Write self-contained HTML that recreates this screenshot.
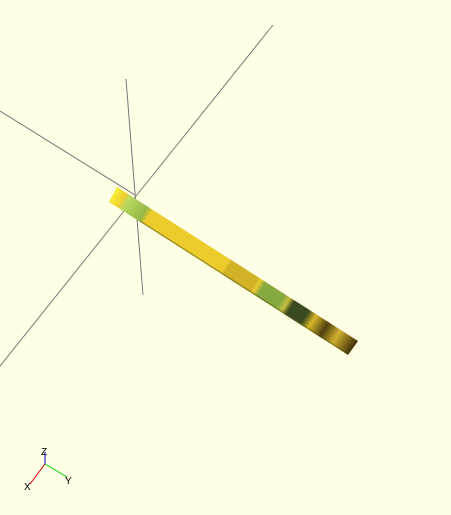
<!DOCTYPE html>
<html><head><meta charset="utf-8"><style>
html,body{margin:0;padding:0;background:#ffffe5;}
svg{display:block}
</style></head><body>
<svg width="451" height="515" viewBox="0 0 451 515">
<defs>
<linearGradient id="g" gradientUnits="userSpaceOnUse" x1="112" y1="194" x2="353" y2="348">
<stop offset="0" stop-color="#f8f030"/>
<stop offset="0.04" stop-color="#f0d030"/>
<stop offset="0.06" stop-color="#b8d860"/>
<stop offset="0.13" stop-color="#98b848"/>
<stop offset="0.15" stop-color="#eccb2c"/>
<stop offset="0.47" stop-color="#eccb2c"/>
<stop offset="0.48" stop-color="#d2b226"/>
<stop offset="0.59" stop-color="#d2b226"/>
<stop offset="0.60" stop-color="#eccb2c"/>
<stop offset="0.62" stop-color="#88a840"/>
<stop offset="0.70" stop-color="#88a840"/>
<stop offset="0.72" stop-color="#c8c040"/>
<stop offset="0.74" stop-color="#3a4a20"/>
<stop offset="0.80" stop-color="#3a4a20"/>
<stop offset="0.83" stop-color="#d8b828"/>
<stop offset="0.88" stop-color="#504010"/>
<stop offset="0.93" stop-color="#d0b030"/>
<stop offset="1" stop-color="#403008"/>
</linearGradient>
</defs>
<g stroke="#777" stroke-width="1">
<line x1="0" y1="111" x2="135" y2="195"/>
<line x1="273" y1="25" x2="0" y2="366"/>
<line x1="126" y1="79" x2="143" y2="295"/>
</g>
<polygon points="109,202 117,187 358,341 348,355" fill="url(#g)"/>
<line x1="140" y1="221" x2="345" y2="352" stroke="#5a6020" stroke-width="1.2" opacity="0.6"/>
<g font-family="Liberation Sans, sans-serif" font-size="10">
<line x1="45" y1="464" x2="30" y2="484" stroke="#d00" stroke-width="1"/>
<line x1="45" y1="464" x2="67" y2="477" stroke="#0c0" stroke-width="1"/>
<line x1="45" y1="464" x2="45" y2="452" stroke="#00c" stroke-width="1"/>
<text x="41" y="455">Z</text>
<text x="24" y="490">X</text>
<text x="65" y="484">Y</text>
</g>
</svg>
</body></html>
